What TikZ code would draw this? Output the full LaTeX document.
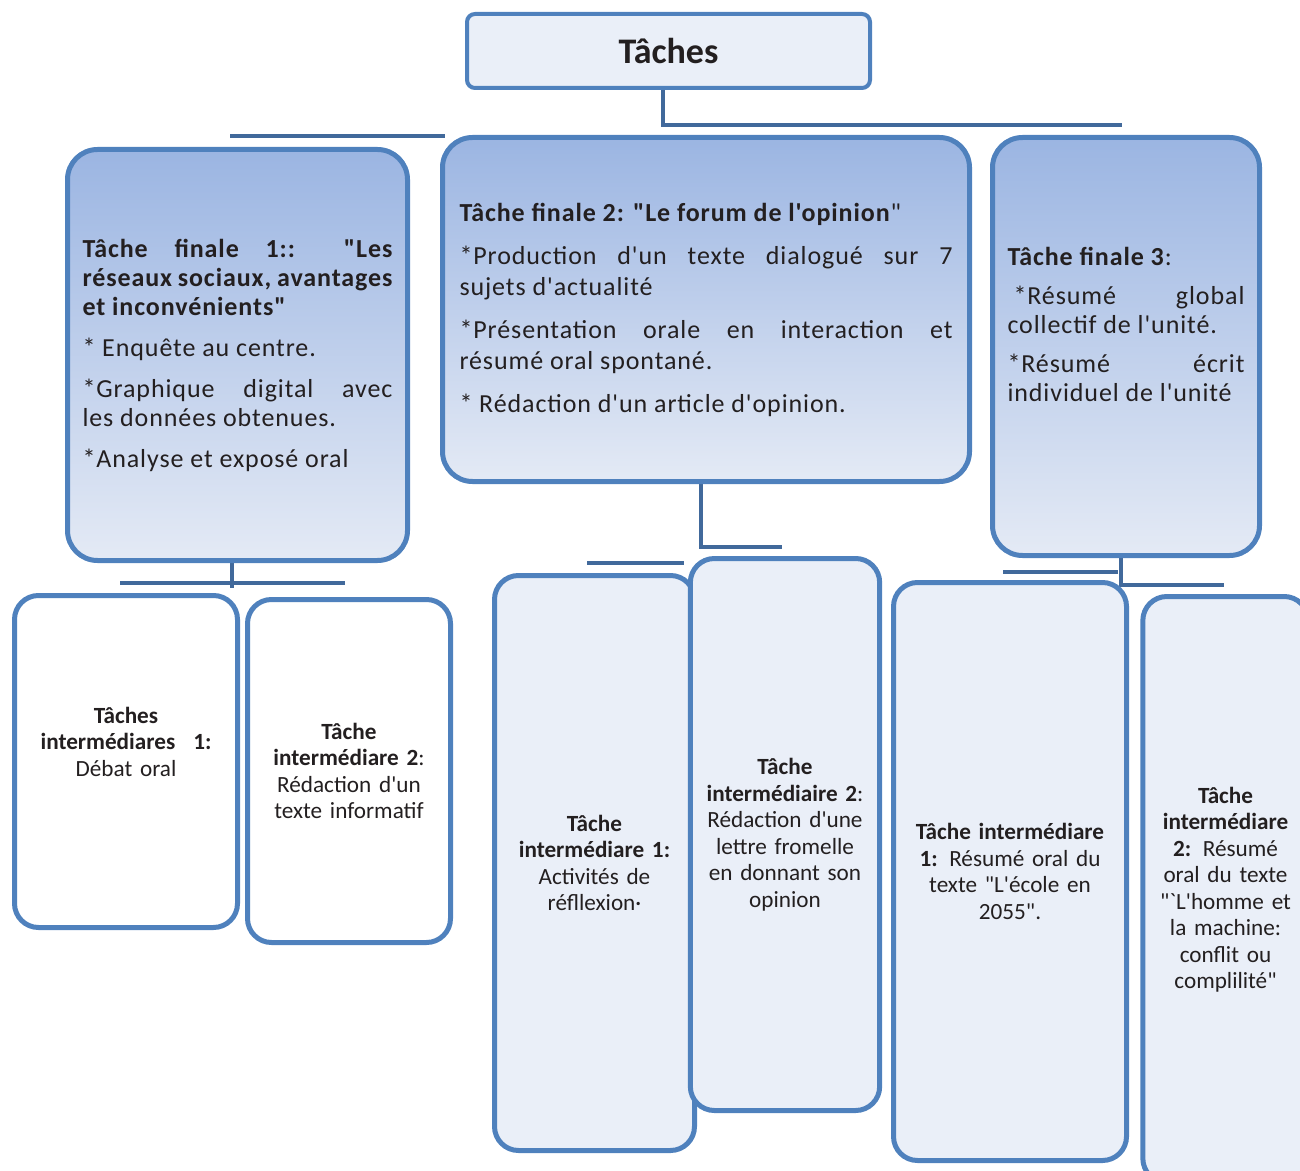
\documentclass[tikz,border=0pt]{standalone}
\usepackage{fontspec}
\setmainfont{Carlito}[Ligatures=TeXOff]
\newfontfamily\widefont{Carlito}[Ligatures=TeXOff, LetterSpace=3.5]
\usetikzlibrary{backgrounds}
\definecolor{boxblue}{HTML}{4F81BD}
\definecolor{linkblue}{HTML}{41699B}
\definecolor{paleblue}{HTML}{EAEFF8}
\definecolor{topblue}{HTML}{9BB5E2}
\definecolor{bottomblue}{HTML}{E4EAF5}
\definecolor{inktext}{HTML}{231F20}
\tikzset{
  rootbox/.style={draw=boxblue, line width=2pt, fill=paleblue, rounded corners=4pt,
    font=\fontsize{18}{21}\selectfont\bfseries, text=inktext},
  finalbox/.style={draw=boxblue, line width=2.5pt, top color=topblue, bottom color=bottomblue,
    rounded corners=15pt, font=\widefont\fontsize{13}{14.5}\selectfont, text=inktext, align=justify},
  interbox/.style={draw=boxblue, line width=2.5pt, rounded corners=12pt,
    font=\fontsize{11.6}{13.25}\selectfont, text=inktext, align=center},
  link/.style={draw=linkblue, line width=2pt}
}
\newcommand{\pargap}{\par\vspace{6pt}}

\begin{document}
\begin{tikzpicture}[x=0.5pt,y=-0.5pt]
                \useasboundingbox (0,0) rectangle (1300,1171);
                \clip (0,0) rectangle (1300,1171);

                %top box
                \node (root) at (668.5,51) [rootbox, minimum width=201.5pt, minimum height=37pt]{Tâches};

                %three final tasks
                \node (F1) at (237.5,355) [finalbox, minimum width=170pt, minimum height=205.5pt, text width=155pt]{%
                  \textbf{Tâche finale 1:: "Les\linebreak réseaux sociaux, avantages\linebreak et inconvénients"}\pargap
                  * Enquête au centre.\pargap
                  *Graphique digital avec\linebreak les données obtenues.\pargap
                  *Analyse et exposé oral};
                \node (F2) at (706,309.5) [finalbox, font=\widefont\fontsize{13}{15.5}\selectfont, minimum width=263.5pt, minimum height=172pt, text width=246.5pt]{%
                  \textbf{Tâche finale 2: "Le forum de l'opinion}"\pargap
                  *Production d'un texte dialogué sur 7\linebreak sujets d'actualité\pargap
                  *Présentation orale en interaction et\linebreak résumé oral spontané.\pargap
                  * Rédaction d'un article d'opinion.};
                \node (F3) at (1126,346.5) [finalbox, minimum width=133.5pt, minimum height=209pt, text width=118.5pt]{%
                  \textbf{Tâche finale 3}:\par\vspace{5pt}
                  \hspace*{3pt}*Résumé global\linebreak collectif de l'unité.\par\vspace{5pt}
                  *Résumé écrit\linebreak individuel de l'unité\par\vspace*{22pt}};

                %intermediate tasks under the first one
                \node (I11) at (126,761.5) [interbox, fill=white, minimum width=111.5pt, minimum height=166pt, text width=95pt]{%
                  \textbf{Tâches}\\ \textbf{intermédiares\hspace{9pt}1:}\\ Débat oral\par\vspace*{20pt}};
                \node (I12) at (349,771) [interbox, fill=white, minimum width=101.5pt, minimum height=171.5pt, text width=92pt]{%
                  \textbf{Tâche}\\ \textbf{intermédiare 2}:\\ Rédaction d'un\\ texte informatif};

                %intermediate tasks under the second one
                \node (I21) at (594.5,863) [interbox, fill=paleblue, minimum width=100pt, minimum height=287.5pt, text width=92pt]{%
                  \textbf{Tâche}\\ \textbf{intermédiare 1:}\\ Activités de\\ réfllexion·};
                \node (I22) at (785,834.5) [interbox, fill=paleblue, minimum width=92.5pt, minimum height=276pt, text width=88pt]{%
                  \textbf{Tâche}\\ \textbf{intermédiaire 2}:\\ Rédaction d'une\\ lettre fromelle\\ en donnant son\\ opinion};

                %intermediate tasks under the third one
                \node (I31) at (1010,871.5) [interbox, fill=paleblue, minimum width=116.5pt, minimum height=289pt, text width=104pt]{%
                  \textbf{Tâche intermédiare}\\ \textbf{1:} Résumé oral du\\ texte "L'école en\\ 2055".};
                \node (I32) at (1225.5,889.5) [interbox, fill=paleblue, minimum width=80pt, minimum height=293pt, text width=76pt]{%
                  \textbf{Tâche}\\ \textbf{intermédiare}\\ \textbf{2:} Résumé\\ oral du texte\\ "`L'homme et\\ la machine:\\ conflit ou\\ complilité"};

                %bus ends for the connectors
                \coordinate (topL) at (230,136);
                \coordinate (topM) at (445,136);
                \coordinate (topJ) at (663,125);
                \coordinate (topR) at (1122,125);
                \coordinate (f1busL) at (120,583);
                \coordinate (f1busR) at (345,583);
                \coordinate (f1j) at (232,588);
                \coordinate (f2busL) at (587,563);
                \coordinate (f2busM) at (684,563);
                \coordinate (f2j) at (701,547);
                \coordinate (f2busR) at (782,547);
                \coordinate (f3busL) at (1003,572);
                \coordinate (f3busM) at (1118,572);
                \coordinate (f3j) at (1121,585);
                \coordinate (f3busR) at (1224,585);

                %connectors go behind the boxes
                \begin{pgfonlayer}{background}
                  \draw[link] (topJ |- root.south) -- (topJ) -- (topR);
                  \draw[link] (topL) -- (topM);
                  \draw[link] (f1busL) -- (f1busR);
                  \draw[link] (f1j |- F1.south) -- (f1j);
                  \draw[link] (f2j |- F2.south) -- (f2j) -- (f2busR);
                  \draw[link] (f2busL) -- (f2busM);
                  \draw[link] (f3j |- F3.south) -- (f3j) -- (f3busR);
                  \draw[link] (f3busL) -- (f3busM);
                \end{pgfonlayer}
\end{tikzpicture}
\end{document}
